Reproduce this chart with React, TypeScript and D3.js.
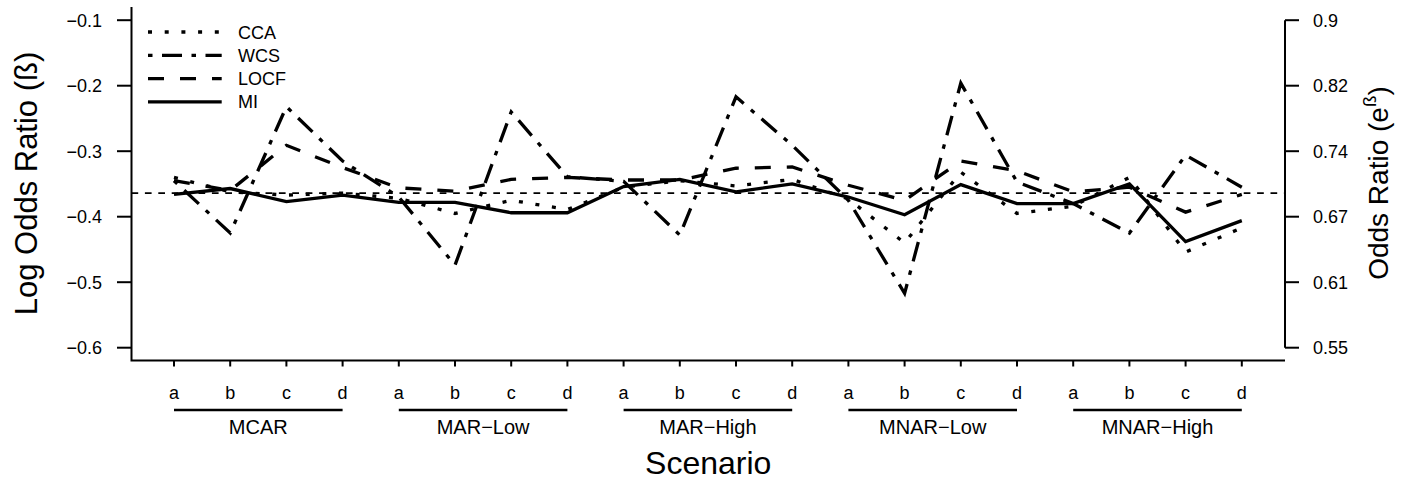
import React from "react";
import * as d3 from "d3";

// Scenario categories (20 points: 5 missingness mechanisms x 4 sub-scenarios)
const groups = ["MCAR", "MAR\u2212Low", "MAR\u2212High", "MNAR\u2212Low", "MNAR\u2212High"];
const subLabels = ["a", "b", "c", "d"];

// Log odds ratio estimates per method
const cca = [-0.340, -0.362, -0.367, -0.364, -0.372, -0.395, -0.375, -0.389, -0.355, -0.345,
  -0.353, -0.343, -0.373, -0.440, -0.332, -0.395, -0.384, -0.340, -0.454, -0.417];
const wcs = [-0.345, -0.425, -0.232, -0.315, -0.370, -0.474, -0.240, -0.339, -0.346, -0.428,
  -0.217, -0.291, -0.375, -0.517, -0.196, -0.347, -0.380, -0.425, -0.306, -0.355];
const locf = [-0.345, -0.360, -0.291, -0.325, -0.356, -0.361, -0.343, -0.340, -0.344, -0.344,
  -0.326, -0.324, -0.352, -0.375, -0.315, -0.330, -0.362, -0.355, -0.393, -0.366];
const mi = [-0.366, -0.357, -0.377, -0.367, -0.378, -0.378, -0.394, -0.394, -0.354, -0.343,
  -0.362, -0.350, -0.370, -0.397, -0.351, -0.380, -0.380, -0.350, -0.438, -0.406];

// True value reference line
const trueBeta = -0.364;

// Axis ticks
const leftTicks = [-0.1, -0.2, -0.3, -0.4, -0.5, -0.6];
const rightTickLabels = ["0.9", "0.82", "0.74", "0.67", "0.61", "0.55"];

const seriesNames = ["CCA", "WCS", "LOCF", "MI"];
const dashPatterns: Record<string, string | undefined> = {
  CCA: "4 12.7",
  WCS: "4.5 9.5 20 9.5",
  LOCF: "16 16",
  MI: undefined,
};

const FONT = "'Liberation Sans', Arial, Helvetica, sans-serif";

export default function App() {
  const W = 1413;
  const H = 482;
  const plotLeft = 131.5;
  const plotRight = 1285;
  const plotTop = 7;
  const plotBottom = 360.5;

  const idx = d3.range(groups.length * subLabels.length);
  const x = d3.scaleLinear().domain([0, idx.length - 1]).range([174, 1241.8]);
  const y = d3.scaleLinear().domain([-0.6, -0.1]).range([347.7, 20.2]);

  const line = d3
    .line<number>()
    .x((_, i) => x(i))
    .y((v) => y(v));

  const seriesData: Record<string, number[]> = { CCA: cca, WCS: wcs, LOCF: locf, MI: mi };
  const lw = 3.3;
  const minus = (v: number) => (v < 0 ? "\u2212" : "") + Math.abs(v).toString();

  return (
    <svg
      width={W}
      height={H}
      style={{ position: "absolute", left: 0, top: 0, background: "#fff" }}
      fontFamily={FONT}
    >
      <rect width={W} height={H} fill="#fff" />

      {/* reference line at the true log odds ratio */}
      <line
        x1={plotLeft}
        x2={plotRight}
        y1={y(trueBeta)}
        y2={y(trueBeta)}
        stroke="#000"
        strokeWidth={1.7}
        strokeDasharray="6.7 6.7"
      />

      {/* method lines */}
      {seriesNames.map((name) => (
        <path
          key={name}
          d={line(seriesData[name]) || ""}
          fill="none"
          stroke="#000"
          strokeWidth={lw}
          strokeDasharray={dashPatterns[name]}
          strokeLinejoin="miter"
          strokeLinecap="butt"
        />
      ))}

      {/* L-shaped frame */}
      <path
        d={`M${plotLeft},${plotTop} V${plotBottom} H${plotRight}`}
        fill="none"
        stroke="#000"
        strokeWidth={2}
      />

      {/* left axis */}
      {leftTicks.map((t) => (
        <g key={t}>
          <line x1={117} x2={plotLeft} y1={y(t)} y2={y(t)} stroke="#000" strokeWidth={2} />
          <text x={102} y={y(t) + 6.5} textAnchor="end" fontSize={18}>
            {minus(t)}
          </text>
        </g>
      ))}
      <text
        transform={`translate(37,183.5) rotate(-90)`}
        textAnchor="middle"
        fontSize={31}
      >
        Log Odds Ratio (ß)
      </text>

      {/* right axis: odds ratio scale */}
      <line x1={plotRight} x2={plotRight} y1={y(-0.1)} y2={y(-0.6)} stroke="#000" strokeWidth={2} />
      {leftTicks.map((t, i) => (
        <g key={t}>
          <line x1={plotRight} x2={1299} y1={y(t)} y2={y(t)} stroke="#000" strokeWidth={2} />
          <text x={1313} y={y(t) + 6.5} textAnchor="start" fontSize={18}>
            {rightTickLabels[i]}
          </text>
        </g>
      ))}
      <text transform={`translate(1388,183) rotate(-90)`} textAnchor="middle" fontSize={28}>
        Odds Ratio (e
        <tspan fontSize={19} dy={-12}>ß</tspan>
        <tspan dy={12}>)</tspan>
      </text>

      {/* bottom axis ticks and sub-scenario labels */}
      {idx.map((i) => (
        <g key={i}>
          <line x1={x(i)} x2={x(i)} y1={plotBottom} y2={366.5} stroke="#000" strokeWidth={2} />
          <text x={x(i)} y={399} textAnchor="middle" fontSize={18}>
            {subLabels[i % subLabels.length]}
          </text>
        </g>
      ))}

      {/* group brackets */}
      {groups.map((g, gi) => {
        const x0 = x(gi * 4);
        const x1 = x(gi * 4 + 3);
        return (
          <g key={g}>
            <line x1={x0} x2={x1} y1={410} y2={410} stroke="#000" strokeWidth={2.3} />
            <text x={(x0 + x1) / 2} y={434} textAnchor="middle" fontSize={20}>
              {g}
            </text>
          </g>
        );
      })}
      <text x={(plotLeft + plotRight) / 2} y={474} textAnchor="middle" fontSize={32}>
        Scenario
      </text>

      {/* legend */}
      {seriesNames.map((name, i) => {
        const ly = 32 + i * 23.3;
        return (
          <g key={name}>
            <line
              x1={148}
              x2={221.7}
              y1={ly}
              y2={ly}
              stroke="#000"
              strokeWidth={lw}
              strokeDasharray={dashPatterns[name]}
            />
            <text x={238} y={ly + 6.5} fontSize={18}>
              {name}
            </text>
          </g>
        );
      })}
    </svg>
  );
}
